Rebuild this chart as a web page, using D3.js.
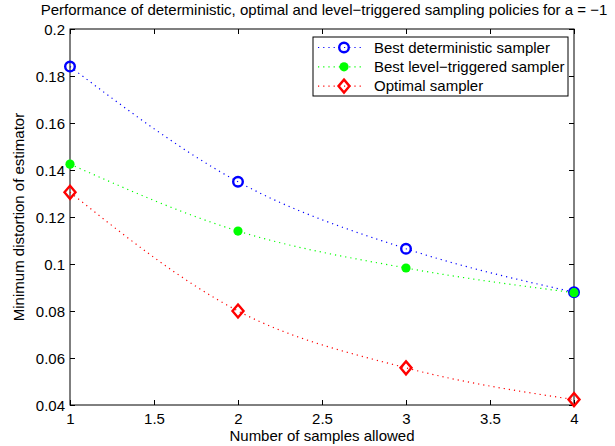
<!DOCTYPE html>
<html><head><meta charset="utf-8">
<script src="https://cdn.jsdelivr.net/npm/d3@7"></script>
<style>body{margin:0;background:#fff}svg{display:block}text{font-family:"Liberation Sans",Arial,sans-serif;font-size:15px;fill:#000}</style>
</head><body>
<svg id="c" width="615" height="446"></svg>
<script>
const samples = [1, 2, 3, 4];
const deterministic = [0.184, 0.135, 0.1065, 0.088];
const levelTriggered = [0.1425, 0.114, 0.0983, 0.0878];
const optimal = [0.1305, 0.0800, 0.0558, 0.0423];
const xTicks = [1, 1.5, 2, 2.5, 3, 3.5, 4];
const yTicks = [0.04, 0.06, 0.08, 0.1, 0.12, 0.14, 0.16, 0.18, 0.2];
const seriesNames = ["Best deterministic sampler", "Best level\u2212triggered sampler", "Optimal sampler"];
const titleText = "Performance of deterministic, optimal and level\u2212triggered sampling policies for a = \u22121";

const FS = 15;
const svg = d3.select("#c");
const L = 70, R = 574, T = 29, B = 405;
const x = d3.scaleLinear().domain([1, 4]).range([L, R]);
const y = d3.scaleLinear().domain([0.04, 0.2]).range([B, T]);

const g = svg.append("g");
g.append("rect").attr("x", L).attr("y", T).attr("width", R - L).attr("height", B - T)
  .attr("fill", "none").attr("stroke", "#000").attr("stroke-width", 1);

const ax = d3.axisBottom(x).tickValues(xTicks).tickSize(-5).tickPadding(6).tickFormat(d => String(d));
const gb = g.append("g").attr("transform", `translate(0,${B})`).call(ax);
const at = d3.axisTop(x).tickValues(xTicks).tickSize(-5).tickFormat("");
const gt = g.append("g").attr("transform", `translate(0,${T})`).call(at);
const ay = d3.axisLeft(y).tickValues(yTicks).tickSize(-5).tickPadding(5).tickFormat(d => String(+d.toFixed(2)));
const gl = g.append("g").attr("transform", `translate(${L},0)`).call(ay);
const ar = d3.axisRight(y).tickValues(yTicks).tickSize(-5).tickFormat("");
const gr = g.append("g").attr("transform", `translate(${R},0)`).call(ar);
[gb, gt, gl, gr].forEach(a => {
  a.select(".domain").remove();
  a.selectAll("line").attr("stroke", "#000");
  a.selectAll("text").attr("font-size", FS).attr("font-family", "Liberation Sans, Arial, sans-serif").attr("fill", "#000");
});
gb.selectAll("text").attr("dy", "0.85em");
gl.selectAll("text").attr("dy", "0.35em");

const series = [
  {vals: deterministic, color: "#0000ff", marker: "circle"},
  {vals: levelTriggered, color: "#00ff00", marker: "dot"},
  {vals: optimal, color: "#ff0000", marker: "diamond"}
];
const line = d3.line().x(d => x(d[0])).y(d => y(d[1])).curve(d3.curveMonotoneX);

function drawMarker(sel, type, color, cx, cy) {
  if (type === "circle") sel.append("circle").attr("cx", cx).attr("cy", cy).attr("r", 4.8)
      .attr("fill", "none").attr("stroke", color).attr("stroke-width", 2.4);
  else if (type === "dot") sel.append("circle").attr("cx", cx).attr("cy", cy).attr("r", 4.6)
      .attr("fill", color).attr("stroke", "none");
  else sel.append("path").attr("d", `M${cx},${cy-6.5}L${cx+5.5},${cy}L${cx},${cy+6.5}L${cx-5.5},${cy}Z`)
      .attr("fill", "none").attr("stroke", color).attr("stroke-width", 2.4);
}

const plot = g.append("g");
series.forEach(s => {
  const pts = samples.map((v, i) => [v, s.vals[i]]);
  plot.append("path").attr("d", line(pts)).attr("fill", "none").attr("stroke", s.color)
    .attr("stroke-width", 1.2).attr("stroke-dasharray", "1.2,4");
});
series.forEach(s => {
  samples.forEach((v, i) => drawMarker(plot, s.marker, s.color, x(v), y(s.vals[i])));
});

const lg = g.append("g");
lg.append("rect").attr("x", 313).attr("y", 37).attr("width", 255).attr("height", 59)
  .attr("fill", "#fff").attr("stroke", "#000").attr("stroke-width", 1);
series.forEach((s, i) => {
  const yy = 47.5 + i * 19.3;
  lg.append("line").attr("x1", 318).attr("x2", 364).attr("y1", yy).attr("y2", yy)
    .attr("stroke", s.color).attr("stroke-width", 1.2).attr("stroke-dasharray", "1.2,4");
  drawMarker(lg, s.marker, s.color, 344, yy);
  lg.append("text").attr("x", 374).attr("y", yy).attr("dy", "0.35em").text(seriesNames[i]);
});

svg.append("text").attr("x", 324).attr("y", 15).attr("text-anchor", "middle").text(titleText);
svg.append("text").attr("x", (L + R) / 2).attr("y", 441).attr("text-anchor", "middle").text("Number of samples allowed");
svg.append("text").attr("transform", `translate(24,${(T + B) / 2}) rotate(-90)`).attr("text-anchor", "middle")
  .text("Minimum distortion of estimator");
</script>
</body></html>
